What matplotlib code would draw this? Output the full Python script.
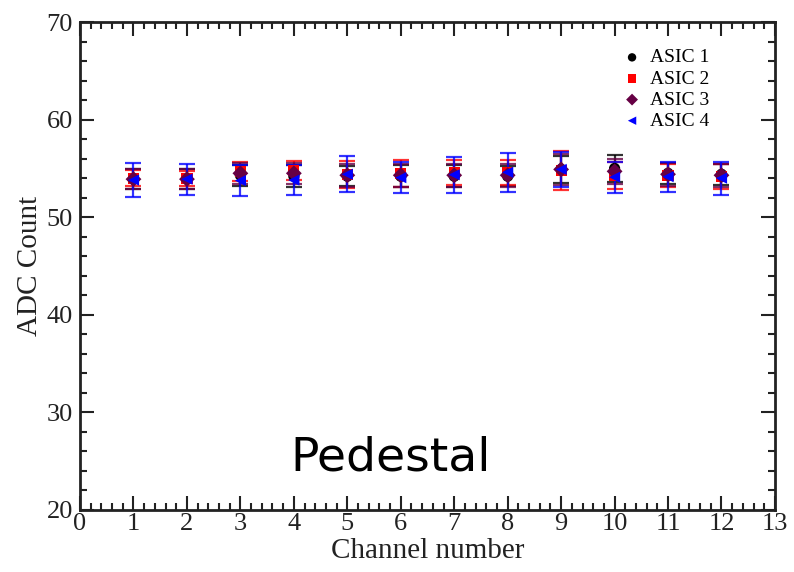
import matplotlib
matplotlib.use("Agg")
import matplotlib.pyplot as plt
from matplotlib.ticker import MultipleLocator

channels = [1, 2, 3, 4, 5, 6, 7, 8, 9, 10, 11, 12]

asic1 = [53.9, 53.9, 54.3, 54.2, 54.2, 54.2, 54.2, 54.2, 54.9, 55.0, 54.5, 54.4]
asic1_err = [1.0, 1.0, 1.1, 1.1, 1.0, 1.1, 1.1, 1.0, 1.4, 1.4, 1.1, 1.1]
asic2 = [54.0, 53.95, 54.7, 54.8, 54.4, 54.5, 54.6, 54.6, 54.8, 54.3, 54.3, 54.2]
asic2_err = [0.8, 0.8, 1.0, 1.0, 1.4, 1.4, 1.3, 1.3, 2.0, 1.4, 1.2, 1.3]
asic3 = [53.9, 53.9, 54.5, 54.5, 54.3, 54.3, 54.3, 54.3, 54.9, 54.7, 54.4, 54.3]
asic3_err = [1.0, 1.0, 1.1, 1.1, 1.2, 1.2, 1.2, 1.2, 1.6, 1.3, 1.2, 1.2]
asic4 = [53.8, 53.9, 53.75, 53.8, 54.4, 54.05, 54.35, 54.6, 54.9, 54.1, 54.15, 54.0]
asic4_err = [1.75, 1.6, 1.6, 1.55, 1.85, 1.6, 1.85, 2.0, 1.8, 1.6, 1.55, 1.7]

series = [
    ("ASIC 1", asic1, asic1_err, "black", "o"),
    ("ASIC 2", asic2, asic2_err, "#ff0000", "s"),
    ("ASIC 3", asic3, asic3_err, "#660044", "D"),
    ("ASIC 4", asic4, asic4_err, "#0000ff", "<"),
]

plt.rcParams['font.family'] = ['Liberation Serif', 'DejaVu Serif']

fig = plt.figure(figsize=(7.94, 5.72), dpi=100)
ax = fig.add_axes([0.1008, 0.1084, 0.8752, 0.8531])

handles = []
for label, vals, errs, color, marker in series:
    ax.errorbar(channels, vals, yerr=errs, fmt='none', ecolor=color,
                elinewidth=1.6, capsize=6, capthick=1.6, alpha=0.8)
    h = ax.scatter(channels, vals, color=color, marker=marker, s=65,
                   zorder=3, label=label, edgecolors='none')
    handles.append(h)

ax.set_xlim(0, 13)
ax.set_ylim(20, 70)
ax.xaxis.set_major_locator(MultipleLocator(1))
ax.xaxis.set_minor_locator(MultipleLocator(0.2))
ax.yaxis.set_major_locator(MultipleLocator(10))
ax.yaxis.set_minor_locator(MultipleLocator(2))
ax.tick_params(which='both', direction='in', top=True, right=True,
               labelsize=19, width=1.5, colors='#222222')
ax.tick_params(axis='x', which='both', pad=2)
ax.tick_params(axis='y', which='both', pad=5)
ax.tick_params(which='major', length=10)
ax.tick_params(which='minor', length=5)
for sp in ax.spines.values():
    sp.set_linewidth(2)
    sp.set_color('#222222')

ax.set_xlabel("Channel number", fontsize=21, labelpad=2, color='#222222')
ax.set_ylabel("ADC Count", fontsize=21, labelpad=3, color='#222222')

leg = ax.legend(handles=handles, loc='upper right', frameon=False,
                fontsize=14, handletextpad=0.3, labelspacing=0.18,
                borderaxespad=0, borderpad=0, markerscale=0.75,
                handlelength=1.2,
                bbox_to_anchor=(0.905, 0.945))

ax.text(5.8, 25.3, "Pedestal", fontsize=34, family='DejaVu Sans',
        ha='center', va='center')

fig.savefig("out.png", dpi=100)
